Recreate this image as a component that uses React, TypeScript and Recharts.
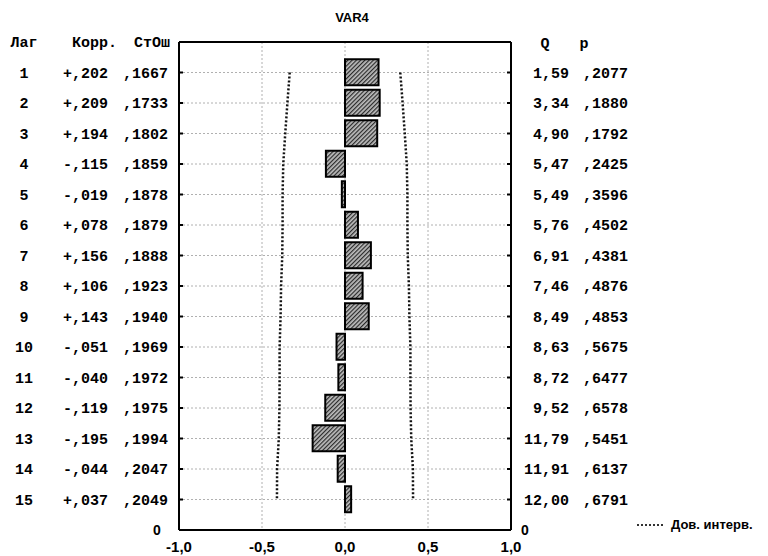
import React from 'react';
import { ComposedChart, Bar, Line, XAxis, YAxis, CartesianGrid, ReferenceLine } from 'recharts';

const lags = [1, 2, 3, 4, 5, 6, 7, 8, 9, 10, 11, 12, 13, 14, 15];
const corr = [0.202, 0.209, 0.194, -0.115, -0.019, 0.078, 0.156, 0.106, 0.143, -0.051, -0.04, -0.119, -0.195, -0.044, 0.037];
const stErr = [0.1667, 0.1733, 0.1802, 0.1859, 0.1878, 0.1879, 0.1888, 0.1923, 0.194, 0.1969, 0.1972, 0.1975, 0.1994, 0.2047, 0.2049];
const qStat = [1.59, 3.34, 4.9, 5.47, 5.49, 5.76, 6.91, 7.46, 8.49, 8.63, 8.72, 9.52, 11.79, 11.91, 12.0];
const pVal = [0.2077, 0.188, 0.1792, 0.2425, 0.3596, 0.4502, 0.4381, 0.4876, 0.4853, 0.5675, 0.6477, 0.6578, 0.5451, 0.6137, 0.6791];
const ciUpper = [0.333, 0.347, 0.36, 0.372, 0.376, 0.376, 0.378, 0.385, 0.388, 0.394, 0.394, 0.395, 0.399, 0.409, 0.41];
const ciLower = [-0.333, -0.347, -0.36, -0.372, -0.376, -0.376, -0.378, -0.385, -0.388, -0.394, -0.394, -0.395, -0.399, -0.409, -0.41];
const xTicks = [-1, -0.5, 0, 0.5, 1];
const title = 'VAR4';
const leftHeaders = ['Лаг', 'Корр.', 'СтОш'];
const rightHeaders = ['Q', 'p'];
const legendLabel = 'Дов. интерв.';

const data = lags.map((lag, i) => ({ lag, corr: corr[i], ciUpper: ciUpper[i], ciLower: ciLower[i] }));

const MONO = '"Liberation Mono", "DejaVu Sans Mono", monospace';
const SANS = '"Liberation Sans", Arial, sans-serif';

const fmtCorr = (v: number) => (v >= 0 ? '+' : '-') + ',' + Math.round(Math.abs(v) * 1000).toString().padStart(3, '0');
const fmtSe = (v: number) => ',' + Math.round(v * 10000).toString().padStart(4, '0');
const fmtQ = (v: number) => v.toFixed(2).replace('.', ',');
const fmtX = (v: number) => v.toFixed(1).replace('.', ',');

const LeftTick = (props: any) => {
  const { y, payload } = props;
  const i = lags.indexOf(payload.value);
  if (i < 0) return null;
  const ty = y + 5;
  return (
    <g>
      <line x1={179} x2={183} y1={y} y2={y} stroke="#000" strokeWidth={2} />
      <text x={24} y={ty} textAnchor="middle" fontFamily={MONO} fontWeight="bold" fontSize={15} fill="#000">{lags[i]}</text>
      <text x={108} y={ty} textAnchor="end" fontFamily={MONO} fontWeight="bold" fontSize={15} fill="#000">{fmtCorr(corr[i])}</text>
      <text x={168} y={ty} textAnchor="end" fontFamily={MONO} fontWeight="bold" fontSize={15} fill="#000">{fmtSe(stErr[i])}</text>
    </g>
  );
};

const RightTick = (props: any) => {
  const { y, payload } = props;
  const i = lags.indexOf(payload.value);
  if (i < 0) return null;
  const ty = y + 5;
  return (
    <g>
      <line x1={507} x2={511} y1={y} y2={y} stroke="#000" strokeWidth={2} />
      <text x={569} y={ty} textAnchor="end" fontFamily={MONO} fontWeight="bold" fontSize={15} fill="#000">{fmtQ(qStat[i])}</text>
      <text x={628} y={ty} textAnchor="end" fontFamily={MONO} fontWeight="bold" fontSize={15} fill="#000">{fmtSe(pVal[i])}</text>
    </g>
  );
};

export default function App() {
  return (
    <div style={{ position: 'absolute', left: 0, top: 0, width: 768, height: 556, background: '#fff' }}>
      <ComposedChart
        layout="vertical"
        width={768}
        height={556}
        data={data}
        margin={{ top: 42, right: 0, bottom: 0, left: 0 }}
      >
        <defs>
          <pattern id="hatch" patternUnits="userSpaceOnUse" width="3" height="3" patternTransform="rotate(45)">
            <rect width="3" height="3" fill="#bdbdbd" />
            <line x1="0.6" y1="0" x2="0.6" y2="3" stroke="#2a2a2a" strokeWidth="1.2" />
          </pattern>
        </defs>
        <CartesianGrid stroke="#b0b0b0" strokeDasharray="2 2" strokeWidth={1} />
        <XAxis
          type="number"
          domain={[-1, 1]}
          ticks={xTicks}
          tickFormatter={fmtX}
          height={26}
          tickLine={false}
          tickMargin={5}
          axisLine={false}
          tick={{ fontFamily: SANS, fontWeight: 'bold', fontSize: 15, fill: '#000' }}
          interval={0}
        />
        <YAxis
          type="number"
          dataKey="lag"
          domain={[0, 16]}
          ticks={lags}
          interval={0}
          width={179}
          tickLine={false}
          axisLine={false}
          tick={<LeftTick />}
        />
        <YAxis
          yAxisId="right"
          orientation="right"
          type="number"
          dataKey="lag"
          domain={[0, 16]}
          ticks={lags}
          interval={0}
          width={257}
          tickLine={false}
          axisLine={false}
          tick={<RightTick />}
        />
        <Bar dataKey="corr" barSize={26} fill="url(#hatch)" stroke="#000" strokeWidth={2} isAnimationActive={false} />
        <Line dataKey="ciUpper" type="linear" stroke="#111" strokeWidth={2.5} strokeDasharray="2 2" dot={false} isAnimationActive={false} />
        <Line dataKey="ciLower" type="linear" stroke="#111" strokeWidth={2.5} strokeDasharray="2 2" dot={false} isAnimationActive={false} />
        <ReferenceLine x={-1} stroke="#000" strokeWidth={2} />
        <ReferenceLine x={1} stroke="#000" strokeWidth={2} />
        <ReferenceLine y={0} stroke="#000" strokeWidth={2} />
        <ReferenceLine y={16} stroke="#000" strokeWidth={2} />
      </ComposedChart>
      <svg width={768} height={556} style={{ position: 'absolute', left: 0, top: 0, pointerEvents: 'none' }}>
        <text x={352} y={22} textAnchor="middle" fontFamily={SANS} fontWeight="bold" fontSize={13} fill="#000">{title}</text>
        <text x={24} y={47} textAnchor="middle" fontFamily={MONO} fontWeight="bold" fontSize={15} fill="#000">{leftHeaders[0]}</text>
        <text x={117} y={47} textAnchor="end" fontFamily={MONO} fontWeight="bold" fontSize={15} fill="#000">{leftHeaders[1]}</text>
        <text x={170} y={47} textAnchor="end" fontFamily={MONO} fontWeight="bold" fontSize={15} fill="#000">{leftHeaders[2]}</text>
        <text x={545} y={48} textAnchor="middle" fontFamily={MONO} fontWeight="bold" fontSize={15} fill="#000">{rightHeaders[0]}</text>
        <text x={584} y={48} textAnchor="middle" fontFamily={MONO} fontWeight="bold" fontSize={15} fill="#000">{rightHeaders[1]}</text>
        <text x={157} y={535} textAnchor="middle" fontFamily={SANS} fontWeight="bold" fontSize={14} fill="#000">0</text>
        <text x={525} y={535} textAnchor="middle" fontFamily={SANS} fontWeight="bold" fontSize={14} fill="#000">0</text>
        <line x1={637} x2={665} y1={525} y2={525} stroke="#333" strokeWidth={2} strokeDasharray="2 2" />
        <text x={671} y={529} fontFamily={SANS} fontWeight="bold" fontSize={13} fill="#000">{legendLabel}</text>
      </svg>
    </div>
  );
}
